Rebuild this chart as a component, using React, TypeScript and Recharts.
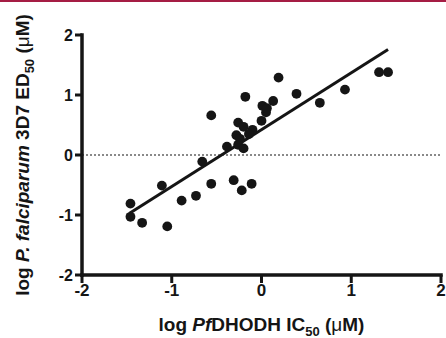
import React from "react";
import {
  ScatterChart,
  Scatter,
  XAxis,
  YAxis,
  ReferenceLine,
} from "recharts";

// log IC50 (PfDHODH) vs log ED50 (P. falciparum 3D7)
const icLog = [
  -1.46, -1.46, -1.33, -1.05, -1.11, -0.89, -0.73, -0.56, -0.66, -0.31, -0.22,
  -0.11, -0.56, -0.385, -0.18, -0.26, -0.2, -0.28, -0.24, -0.26, -0.2, -0.1,
  -0.14, 0.0, 0.05, 0.01, 0.06, 0.13, 0.19, 0.39, 0.65, 0.93, 1.31, 1.41,
];
const edLog = [
  -0.81, -1.03, -1.13, -1.19, -0.51, -0.76, -0.68, -0.48, -0.11, -0.42, -0.59,
  -0.48, 0.66, 0.14, 0.97, 0.54, 0.47, 0.33, 0.27, 0.17, 0.11, 0.42, 0.35,
  0.57, 0.71, 0.82, 0.78, 0.9, 1.29, 1.02, 0.87, 1.09, 1.38, 1.38,
];

// linear fit endpoints
const fitX = [-1.47, 1.41];
const fitY = [-0.97, 1.76];

const xTicks = [-2, -1, 0, 1, 2];
const yTicks = [-2, -1, 0, 1, 2];

const points = icLog.map((x, i) => ({ x, y: edLog[i] }));

const INK = "#151515";
const FONT = "'Liberation Sans', Arial, Helvetica, sans-serif";

function XTitle(props: any) {
  const vb = props.viewBox || { x: 82, y: 275, width: 359, height: 63 };
  return (
    <text
      x={vb.x + vb.width / 2}
      y={vb.y + 56}
      textAnchor="middle"
      fontFamily={FONT}
      fontWeight={700}
      fontSize={19}
      fill={INK}
    >
      log <tspan fontStyle="italic">Pf</tspan>DHODH IC
      <tspan dy={5} fontSize={13}>50</tspan>
      <tspan dy={-5}> (</tspan>
      <tspan fontWeight={400}>μ</tspan>
      <tspan>M)</tspan>
    </text>
  );
}

function YTitle(props: any) {
  const vb = props.viewBox || { x: 0, y: 35, width: 82, height: 240 };
  const cx = 29;
  const cy = vb.y + vb.height / 2;
  return (
    <text
      x={cx}
      y={cy}
      transform={`rotate(-90, ${cx}, ${cy})`}
      textAnchor="middle"
      fontFamily={FONT}
      fontWeight={700}
      fontSize={19}
      fill={INK}
    >
      log <tspan fontStyle="italic">P. falciparum</tspan> 3D7 ED
      <tspan dy={5} fontSize={13}>50</tspan>
      <tspan dy={-5}> (</tspan>
      <tspan fontWeight={400}>μ</tspan>
      <tspan>M)</tspan>
    </text>
  );
}

function Dot(props: any) {
  const { cx, cy } = props;
  if (cx == null || cy == null) return null;
  return <circle cx={cx} cy={cy} r={4.9} fill={INK} />;
}

export default function App() {
  return (
    <div
      style={{
        position: "absolute",
        left: 0,
        top: 0,
        width: 446,
        height: 338,
        background: "#fff",
        overflow: "hidden",
      }}
    >
      <div
        style={{
          position: "absolute",
          left: 0,
          top: 0,
          width: 446,
          height: 2,
          background: "#a51d44",
        }}
      />
      <ScatterChart
        width={446}
        height={338}
        margin={{ top: 35, right: 5, bottom: 0, left: 0 }}
      >
        <XAxis
          type="number"
          dataKey="x"
          domain={[-2, 2]}
          ticks={xTicks}
          interval={0}
          height={63}
          tickSize={8}
          tickMargin={1}
          axisLine={{ stroke: INK, strokeWidth: 3.5, strokeLinecap: "square" }}
          tickLine={{ stroke: INK, strokeWidth: 3 }}
          tick={{ fontSize: 17, fontWeight: 700, fill: INK, fontFamily: FONT }}
          label={{ content: XTitle }}
        />
        <YAxis
          type="number"
          dataKey="y"
          domain={[-2, 2]}
          ticks={yTicks}
          interval={0}
          width={82}
          tickSize={7}
          tickMargin={2}
          axisLine={{ stroke: INK, strokeWidth: 3.5, strokeLinecap: "square" }}
          tickLine={{ stroke: INK, strokeWidth: 3 }}
          tick={{ fontSize: 16, fontWeight: 700, fill: INK, fontFamily: FONT }}
          label={{ content: YTitle }}
        />
        <ReferenceLine
          y={0}
          stroke={INK}
          strokeWidth={1.2}
          strokeDasharray="2 2"
        />
        <ReferenceLine
          segment={[
            { x: fitX[0], y: fitY[0] },
            { x: fitX[1], y: fitY[1] },
          ]}
          stroke={INK}
          strokeWidth={3}
        />
        <Scatter data={points} shape={<Dot />} isAnimationActive={false} />
      </ScatterChart>
    </div>
  );
}
